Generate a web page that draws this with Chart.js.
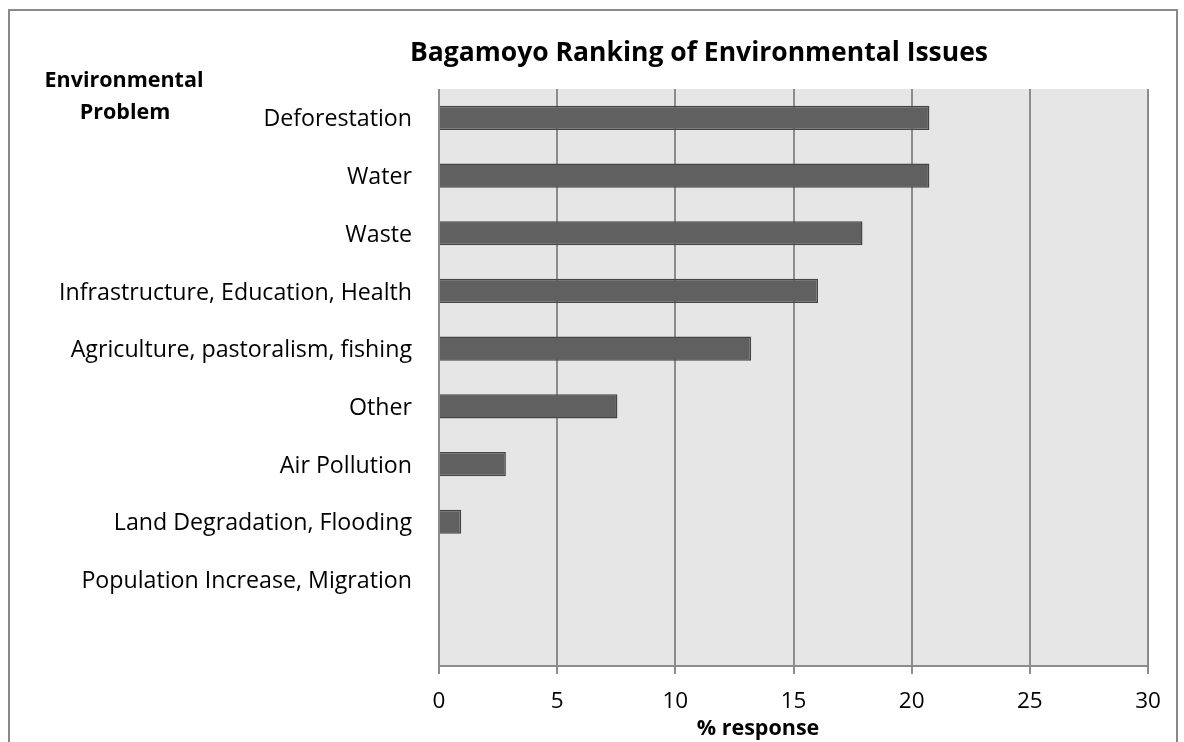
<!DOCTYPE html>
<html>
<head>
<meta charset="utf-8">
<script src="https://cdn.jsdelivr.net/npm/chart.js@4/dist/chart.umd.min.js"></script>
<style>
  html, body { margin: 0; padding: 0; background: #ffffff; }
  #wrap { width: 1184px; height: 742px; position: relative; }
</style>
</head>
<body>
<div id="wrap"><canvas id="chart" width="1184" height="742"></canvas></div>
<script>
// Environmental problems, top to bottom (last slot left blank)
const categories = [
  'Deforestation',
  'Water',
  'Waste',
  'Infrastructure, Education, Health',
  'Agriculture, pastoralism, fishing',
  'Other',
  'Air Pollution',
  'Land Degradation, Flooding',
  'Population Increase, Migration',
  ''
];
// Share of responses (%)
const responsePct = [20.75, 20.75, 17.92, 16.04, 13.21, 7.55, 2.83, 0.94, 0, null];
// Value axis ticks
const xTicks = [0, 5, 10, 15, 20, 25, 30];

const chartTitle = 'Bagamoyo Ranking of Environmental Issues';
const yAxisTitle = ['Environmental', 'Problem'];
const xAxisTitle = '% response';

const FONT = '"Open Sans", sans-serif';
const GRID = '#8c8c8c';

const frame = {
  id: 'frame',
  beforeDraw(chart) {
    const { ctx, chartArea: a } = chart;
    ctx.save();
    ctx.fillStyle = '#ffffff';
    ctx.fillRect(0, 0, chart.width, chart.height);
    ctx.strokeStyle = '#8a8a8a';
    ctx.lineWidth = 2;
    ctx.strokeRect(9, 10, 1168, 760);
    ctx.fillStyle = '#e6e6e6';
    ctx.fillRect(a.left, a.top, a.right - a.left, a.bottom - a.top);
    ctx.restore();
  },
  afterDraw(chart) {
    const { ctx } = chart;
    ctx.save();
    ctx.fillStyle = '#000000';
    ctx.textAlign = 'center';
    ctx.textBaseline = 'alphabetic';
    ctx.font = 'bold 26.5px ' + FONT;
    ctx.fillText(chartTitle, 699, 61);
    ctx.font = 'bold 21.5px ' + FONT;
    ctx.fillText(yAxisTitle[0], 124, 87);
    ctx.fillText(yAxisTitle[1], 125, 119);
    ctx.fillText(xAxisTitle, 758, 735);
    ctx.restore();
  }
};

new Chart(document.getElementById('chart'), {
  type: 'bar',
  data: {
    labels: categories,
    datasets: [{
      data: responsePct,
      backgroundColor: '#606060',
      borderColor: '#464646',
      borderWidth: 1.5,
      barPercentage: 0.42,
      categoryPercentage: 1
    }]
  },
  options: {
    indexAxis: 'y',
    responsive: false,
    animation: false,
    layout: { padding: { top: 89, right: 36, left: 0, bottom: 0 } },
    plugins: {
      legend: { display: false },
      title: { display: false },
      tooltip: { enabled: false }
    },
    scales: {
      x: {
        min: 0,
        max: 30,
        afterBuildTicks(scale) { scale.ticks = xTicks.map(v => ({ value: v })); },
        afterFit(scale) { scale.height = 76; },
        ticks: {
          color: '#000000',
          font: { family: FONT, size: 22.5 },
          padding: 14
        },
        grid: { color: GRID, lineWidth: 2, tickLength: 8, drawTicks: true },
        border: { color: GRID, width: 2 }
      },
      y: {
        afterFit(scale) { scale.width = 439; },
        ticks: {
          color: '#000000',
          font: { family: FONT, size: 23.2 },
          padding: 27,
          labelOffset: 2,
          autoSkip: false
        },
        grid: { display: false, drawTicks: false },
        border: { display: false }
      }
    }
  },
  plugins: [frame]
});
</script>
</body>
</html>
